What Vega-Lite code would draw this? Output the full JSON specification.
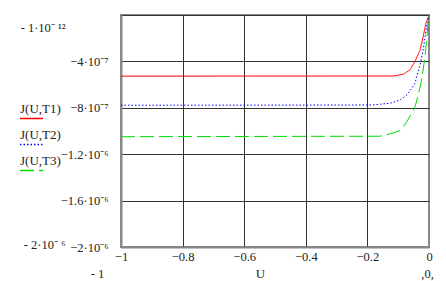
{
  "$schema": "https://vega.github.io/schema/vega-lite/v6.json",
  "width": 308,
  "height": 232,
  "autosize": {"type": "none"},
  "padding": {"left": 121, "top": 15, "right": 17, "bottom": 34},
  "background": "white",
  "config": {
    "font": "Liberation Serif",
    "view": {"stroke": "#888", "strokeWidth": 2},
    "axis": {"labelFont": "Liberation Serif", "titleFont": "Liberation Serif", "labelColor": "#222", "titleColor": "#222", "tickSize": 0, "labelFontSize": 12.5, "titleFontWeight": "normal", "titleFontSize": 13},
    "legend": {"labelFont": "Liberation Serif", "labelFontSize": 13, "labelColor": "#222"}
  },
  "data": {"values": [
    {"U": -1, "J": -5.27e-7, "s": "J(U,T1)"},
    {"U": -0.13, "J": -5.26e-7, "s": "J(U,T1)"},
    {"U": -0.11, "J": -5.24e-7, "s": "J(U,T1)"},
    {"U": -0.084, "J": -5.11e-7, "s": "J(U,T1)"},
    {"U": -0.062, "J": -4.74e-7, "s": "J(U,T1)"},
    {"U": -0.045, "J": -3.97e-7, "s": "J(U,T1)"},
    {"U": -0.029, "J": -3.02e-7, "s": "J(U,T1)"},
    {"U": -0.019, "J": -1.87e-7, "s": "J(U,T1)"},
    {"U": -0.010, "J": -0.69e-7, "s": "J(U,T1)"},
    {"U": 0, "J": 0, "s": "J(U,T1)"},
    {"U": -1, "J": -7.78e-7, "s": "J(U,T2)"},
    {"U": -0.186, "J": -7.76e-7, "s": "J(U,T2)"},
    {"U": -0.127, "J": -7.61e-7, "s": "J(U,T2)"},
    {"U": -0.094, "J": -7.33e-7, "s": "J(U,T2)"},
    {"U": -0.072, "J": -6.90e-7, "s": "J(U,T2)"},
    {"U": -0.056, "J": -6.32e-7, "s": "J(U,T2)"},
    {"U": -0.045, "J": -5.84e-7, "s": "J(U,T2)"},
    {"U": -0.040, "J": -5.32e-7, "s": "J(U,T2)"},
    {"U": -0.029, "J": -4.31e-7, "s": "J(U,T2)"},
    {"U": -0.020, "J": -3.16e-7, "s": "J(U,T2)"},
    {"U": -0.015, "J": -2.30e-7, "s": "J(U,T2)"},
    {"U": -0.007, "J": -0.86e-7, "s": "J(U,T2)"},
    {"U": 0, "J": 0, "s": "J(U,T2)"},
    {"U": -1, "J": -1.049e-6, "s": "J(U,T3)"},
    {"U": -0.159, "J": -1.045e-6, "s": "J(U,T3)"},
    {"U": -0.127, "J": -1.025e-6, "s": "J(U,T3)"},
    {"U": -0.094, "J": -0.997e-6, "s": "J(U,T3)"},
    {"U": -0.072, "J": -0.920e-6, "s": "J(U,T3)"},
    {"U": -0.056, "J": -0.847e-6, "s": "J(U,T3)"},
    {"U": -0.045, "J": -0.790e-6, "s": "J(U,T3)"},
    {"U": -0.035, "J": -0.690e-6, "s": "J(U,T3)"},
    {"U": -0.026, "J": -0.586e-6, "s": "J(U,T3)"},
    {"U": -0.019, "J": -0.474e-6, "s": "J(U,T3)"},
    {"U": -0.013, "J": -0.359e-6, "s": "J(U,T3)"},
    {"U": -0.007, "J": -0.201e-6, "s": "J(U,T3)"},
    {"U": -0.004, "J": -0.086e-6, "s": "J(U,T3)"},
    {"U": 0, "J": 0, "s": "J(U,T3)"}
  ]},
  "layer": [
    {
      "mark": {"type": "line", "strokeWidth": 1, "clip": true},
      "encoding": {
        "x": {"field": "U", "type": "quantitative", "scale": {"domain": [-1, 0], "nice": false, "zero": false},
          "axis": {"orient": "bottom", "values": [-1, -0.8, -0.6, -0.4, -0.2, 0], "labelExpr": "datum.value < -0.9 ? '\u22121' : datum.value > -0.1 ? '0' : '\u2212' + format(-datum.value, '.1f')",
            "grid": true, "gridColor": {"condition": {"test": "datum.value > -0.1", "value": "transparent"}, "value": "#333"}, "gridWidth": 1,
            "domain": true, "domainColor": "#888", "domainWidth": 2, "labelPadding": 3, "labelFlush": false,
            "title": "U", "titlePadding": 5, "titleX": 139}},
        "y": {"field": "J", "type": "quantitative", "scale": {"domain": [-2e-6, 0], "nice": false, "zero": false},
          "axis": {"orient": "left", "values": [0, -4e-7, -8e-7, -1.2e-6, -1.6e-6, -2e-6],
            "labelExpr": "datum.value > -2e-7 ? '' : datum.value > -6e-7 ? '\u22124\u00b710\u207b\u2077' : datum.value > -1e-6 ? '\u22128\u00b710\u207b\u2077' : datum.value > -1.4e-6 ? '\u22121.2\u00b710\u207b\u2076' : datum.value > -1.8e-6 ? '\u22121.6\u00b710\u207b\u2076' : '\u22122\u00b710\u207b\u2076'",
            "grid": true, "gridColor": "#333", "gridWidth": 1, "domain": true, "domainColor": "#888", "domainWidth": 2,
            "labelPadding": 13, "labelFlush": false, "title": null}},
        "color": {"field": "s", "type": "nominal", "scale": {"domain": ["J(U,T1)", "J(U,T2)", "J(U,T3)"], "range": ["#ff0000", "#0000ff", "#00dd00"]},
          "legend": {"title": null, "orient": "none", "legendX": -102, "legendY": 81, "symbolType": "M-1,0.87L1,0.87", "symbolSize": 529, "symbolStrokeWidth": 1.5, "labelOffset": -24, "labelBaseline": "middle", "rowPadding": -4.5, "padding": 0}},
        "strokeDash": {"field": "s", "type": "nominal", "scale": {"domain": ["J(U,T1)", "J(U,T2)", "J(U,T3)"], "range": [[1, 0], [1.5, 2], [14, 5]]}, "legend": null}
      }
    },
    {
      "mark": {"type": "point", "opacity": 0},
      "encoding": {
        "x": {"field": "U", "type": "quantitative", "scale": {"domain": [-1, 0], "nice": false, "zero": false},
          "axis": {"orient": "bottom", "offset": 20, "values": [-1, 0], "labelExpr": "datum.value < -0.5 ? '- 1' : ',0,'", "grid": false, "domain": false,
            "labelOffset": {"condition": {"test": "datum.value < -0.5", "value": -24}, "value": -2}, "labelPadding": 0, "labelFlush": false, "title": null}},
        "y": {"field": "J", "type": "quantitative", "scale": {"domain": [-2e-6, 0], "nice": false, "zero": false},
          "axis": {"orient": "left", "offset": 56, "values": [-1.05e-7, -1.98e-6], "labelExpr": "datum.value > -1e-6 ? '- 1\u00b710\u207b \u00b9\u00b2' : '- 2\u00b710\u207b \u2076'",
            "grid": false, "domain": false, "labelPadding": 0, "labelFlush": false, "title": null}}
      }
    }
  ],
  "resolve": {"axis": {"x": "independent", "y": "independent"}}
}
